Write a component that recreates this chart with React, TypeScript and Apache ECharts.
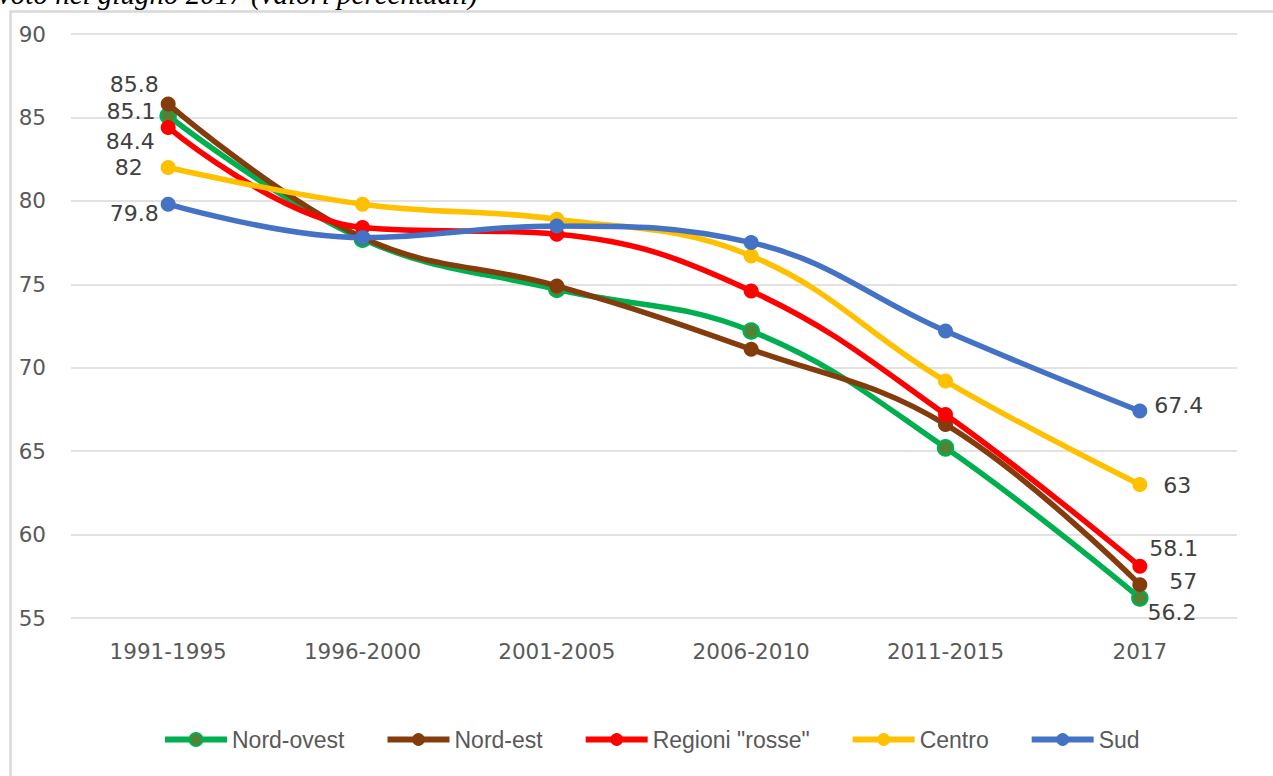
import React, { useEffect, useRef } from "react";
import * as echarts from "echarts";

const categories = ["1991-1995", "1996-2000", "2001-2005", "2006-2010", "2011-2015", "2017"];
const seriesNames = ["Nord-ovest", "Nord-est", 'Regioni "rosse"', "Centro", "Sud"];
const nordOvest = [85.1, 77.7, 74.7, 72.2, 65.2, 56.2];
const nordEst = [85.8, 77.8, 74.9, 71.1, 66.6, 57];
const regioniRosse = [84.4, 78.4, 78.0, 74.6, 67.2, 58.1];
const centro = [82, 79.8, 78.9, 76.7, 69.2, 63];
const sud = [79.8, 77.8, 78.5, 77.5, 72.2, 67.4];
const yTicks = { min: 55, max: 90, interval: 5 };
const titleText = "voto nel giugno 2017 (valori percentuali)";

const values = [nordOvest, nordEst, regioniRosse, centro, sud];
const lineColors = ["#00b050", "#843c0c", "#ff0000", "#ffc000", "#4472c4"];
const symbolFill = ["#548235", "#843c0c", "#ff0000", "#ffc000", "#4472c4"];
// label offsets (style): first point labels on left, last point labels on right
const firstOffsets = [[-4, -4], [-2, -20], [-6, 14], [-18, 0], [-2, 9]];
const lastOffsets = [[-1, 15], [22, -3], [2, -18], [16, 1], [7, -6]];

const labelFont = "DejaVu Sans";

export default function App() {
  const ref = useRef<HTMLDivElement>(null);
  useEffect(() => {
    if (!ref.current) return;
    const chart = echarts.init(ref.current, null, { renderer: "svg" });
    const series = seriesNames.map((name, si) => ({
      name,
      type: "line",
      smooth: 0.4,
      symbol: "circle",
      symbolSize: 15,
      z: 2 + si,
      lineStyle: { color: lineColors[si], width: 5.5 },
      itemStyle: {
        color: symbolFill[si],
        borderColor: lineColors[si],
        borderWidth: si === 0 ? 2.5 : 0,
      },
      emphasis: { disabled: true },
      data: values[si].map((v, i) => {
        if (i === 0) {
          return {
            value: v,
            label: {
              show: true,
              position: "left",
              distance: 0,
              offset: firstOffsets[si],
              formatter: String(v),
            },
          };
        }
        if (i === values[si].length - 1) {
          return {
            value: v,
            label: {
              show: true,
              position: "right",
              distance: 0,
              offset: lastOffsets[si],
              formatter: String(v),
            },
          };
        }
        return { value: v };
      }),
      label: {
        fontFamily: labelFont,
        fontSize: 22,
        color: "#404040",
      },
    }));

    chart.setOption({
      animation: false,
      backgroundColor: "#ffffff",
      grid: { left: 71, right: 36, top: 34, bottom: 158 },
      xAxis: {
        type: "category",
        data: categories,
        boundaryGap: true,
        axisLine: { show: false },
        axisTick: { show: false },
        axisLabel: {
          fontFamily: labelFont,
          fontSize: 21.5,
          color: "#595959",
          margin: 22,
        },
      },
      yAxis: {
        type: "value",
        min: yTicks.min,
        max: yTicks.max,
        interval: yTicks.interval,
        axisLine: { show: false },
        axisTick: { show: false },
        splitLine: { lineStyle: { color: "#d9d9d9", width: 1.5 } },
        axisLabel: {
          fontFamily: labelFont,
          fontSize: 21.5,
          color: "#595959",
          margin: 25,
        },
      },
      legend: {
        data: seriesNames,
        bottom: 20,
        left: 157,
        itemWidth: 62,
        itemHeight: 16,
        itemGap: 40,
        lineStyle: { width: 6 },
        textStyle: {
          fontFamily: "Liberation Sans",
          fontSize: 23,
          color: "#595959",
        },
      },
      graphic: [
        {
          type: "rect",
          shape: { x: 10.5, y: 11.5, width: 1400, height: 900 },
          style: { fill: "none", stroke: "#d9d9d9", lineWidth: 2.5 },
          silent: true,
          z: -1,
        },
        {
          type: "text",
          x: -2,
          y: 8,
          style: {
            text: titleText,
            font: "italic 29px 'Liberation Serif'",
            fill: "#000000",
            textVerticalAlign: "bottom",
          },
          silent: true,
        },
      ],
      series,
    });
    return () => chart.dispose();
  }, []);
  return (
    <div
      ref={ref}
      style={{ position: "absolute", left: 0, top: 0, width: 1273, height: 776 }}
    />
  );
}
